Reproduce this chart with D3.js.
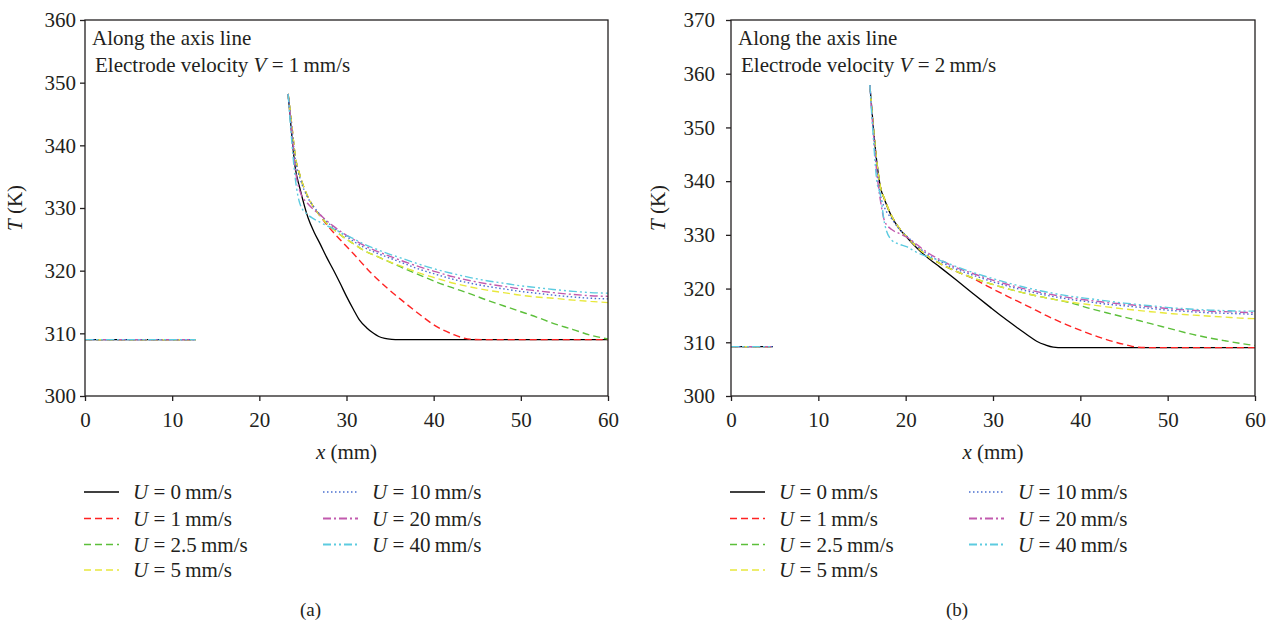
<!DOCTYPE html>
<html><head><meta charset="utf-8">
<script src="https://cdn.jsdelivr.net/npm/d3@7"></script>
<style>
body{margin:0;background:#fff}
svg{display:block}
text{font-family:"Liberation Serif","Times New Roman",serif;fill:#231f20}
</style>
</head><body>
<svg id="c" width="1276" height="623"></svg>
<script>
// ---------- data ----------
const xTicks = [0, 10, 20, 30, 40, 50, 60];
const yTicksA = [300, 310, 320, 330, 340, 350, 360];
const yTicksB = [300, 310, 320, 330, 340, 350, 360, 370];
const uLabels = ["0", "1", "2.5", "5", "10", "20", "40"];
const velocityA = "1";
const velocityB = "2";

// Panel (a): V = 1 mm/s
const aFlatX = [0, 12.7];
const aFlatT = [309.0, 309.0];
const aX_U0 = [23.3, 23.7, 24.1, 24.7, 25.6, 26.3, 27.0, 27.7, 28.5, 29.3, 30.0, 30.8, 31.5, 32.3, 33.1, 33.7, 34.4, 35.2, 36.0, 60];
const aT_U0 = [348.2, 341.9, 336.6, 332.9, 328.4, 326.1, 324.2, 322.2, 320.1, 317.9, 315.9, 313.8, 312.1, 310.9, 310.0, 309.5, 309.2, 309.05, 309.0, 309.0];
const aX_U1 = [23.3, 23.7, 24.1, 24.7, 25.5, 26.2, 27.0, 27.7, 28.9, 30.8, 32.7, 34.6, 36.5, 38.4, 40.3, 42.3, 43.3, 44.2, 46.0, 60];
const aT_U1 = [348.2, 343.5, 338.5, 335.0, 332.0, 330.2, 328.7, 327.4, 325.5, 322.7, 319.8, 317.3, 315.1, 313.0, 311.1, 309.8, 309.3, 309.05, 309.0, 309.0];
const aX_grp = [23.3, 23.7, 24.1, 24.7, 25.5, 26.2, 27.0, 27.7, 28.5, 29.6, 30.8, 31.9, 33.3, 34.6, 36.5, 38.4, 40.3, 42.3, 44.2, 46.1, 48.0, 49.9, 51.8, 53.7, 56.0, 58.0, 60];
const aT_U2_5 = [348.2, 343.5, 338.5, 335.0, 332.0, 330.2, 328.7, 327.6, 326.6, 325.4, 324.3, 323.3, 322.4, 321.6, 320.4, 319.3, 318.2, 317.2, 316.3, 315.3, 314.4, 313.5, 312.6, 311.6, 310.6, 309.7, 309.1];
const aT_U5 = [348.2, 343.5, 338.5, 335.0, 332.0, 330.2, 328.7, 327.6, 326.6, 325.4, 324.3, 323.3, 322.4, 321.6, 320.6, 319.6, 318.8, 318.0, 317.4, 316.9, 316.5, 316.1, 315.8, 315.6, 315.3, 315.1, 314.9];
const aT_U10 = [348.2, 343.0, 338.0, 334.6, 331.8, 330.3, 328.9, 327.9, 326.9, 325.8, 324.7, 323.8, 322.9, 322.2, 321.2, 320.2, 319.4, 318.6, 318.0, 317.5, 317.1, 316.7, 316.4, 316.1, 315.8, 315.6, 315.5];
const aT_U20 = [348.2, 342.5, 336.5, 332.5, 330.8, 329.8, 328.9, 328.0, 327.1, 326.0, 325.0, 324.1, 323.2, 322.5, 321.5, 320.6, 319.8, 319.0, 318.4, 317.9, 317.5, 317.1, 316.8, 316.5, 316.2, 316.0, 315.9];
const aT_U40 = [348.2, 341.0, 335.0, 330.5, 329.0, 328.3, 327.7, 327.2, 326.7, 325.9, 325.1, 324.3, 323.5, 322.8, 321.9, 321.0, 320.2, 319.5, 318.9, 318.4, 318.0, 317.6, 317.3, 317.0, 316.7, 316.5, 316.4];

// Panel (b): V = 2 mm/s
const bFlatX = [0, 4.8];
const bFlatT = [309.2, 309.2];
const bX_U0 = [15.9, 16.3, 16.7, 17.1, 17.6, 18.4, 19.2, 20.1, 21.2, 22.4, 24.0, 25.8, 27.7, 29.7, 31.2, 32.7, 33.9, 35.0, 36.0, 36.9, 38.0, 60];
const bT_U0 = [357.9, 350.0, 343.5, 339.0, 336.5, 333.4, 331.3, 329.6, 327.7, 325.9, 323.9, 321.6, 319.1, 316.5, 314.6, 312.8, 311.4, 310.2, 309.5, 309.1, 309.0, 309.0];
const bX_U1 = [15.9, 16.3, 16.7, 17.1, 17.6, 18.4, 19.2, 20.1, 21.2, 22.4, 24.0, 25.8, 27.7, 29.3, 31.6, 33.9, 36.2, 38.4, 40.7, 43.0, 45.3, 46.5, 48.0, 60];
const bT_U1 = [357.9, 350.0, 343.5, 339.0, 336.6, 333.5, 331.4, 329.7, 327.9, 326.2, 324.6, 323.2, 321.9, 320.5, 318.6, 316.8, 314.9, 313.3, 311.8, 310.5, 309.5, 309.1, 309.0, 309.0];
const bX_grp = [15.9, 16.3, 16.7, 17.1, 17.6, 18.4, 19.2, 20.1, 21.2, 22.4, 24.0, 25.8, 27.7, 29.7, 31.6, 33.5, 35.4, 37.3, 39.2, 41.1, 43.0, 45.0, 46.8, 48.7, 50.6, 52.5, 54.5, 56.5, 58.3, 60];
const bT_U2_5 = [357.9, 350.0, 343.5, 339.0, 336.6, 333.5, 331.4, 329.7, 327.9, 326.2, 324.6, 323.2, 322.0, 320.9, 320.0, 319.2, 318.5, 317.9, 317.2, 316.3, 315.5, 314.7, 314.0, 313.2, 312.4, 311.6, 310.9, 310.3, 309.8, 309.4];
const bT_U5 = [357.9, 350.0, 343.5, 339.0, 336.6, 333.5, 331.4, 329.7, 327.9, 326.2, 324.6, 323.2, 322.0, 320.9, 320.0, 319.2, 318.5, 317.9, 317.4, 317.0, 316.6, 316.2, 315.9, 315.6, 315.3, 315.1, 314.9, 314.7, 314.5, 314.4];
const bT_U10 = [357.9, 349.5, 342.5, 337.5, 335.0, 333.0, 331.2, 329.8, 328.1, 326.5, 325.0, 323.6, 322.5, 321.4, 320.5, 319.7, 319.0, 318.4, 317.9, 317.5, 317.1, 316.8, 316.5, 316.2, 315.9, 315.7, 315.5, 315.4, 315.3, 315.2];
const bT_U20 = [357.9, 349.0, 341.5, 336.5, 332.5, 331.0, 330.3, 329.6, 328.3, 326.8, 325.3, 323.9, 322.8, 321.7, 320.8, 320.0, 319.3, 318.7, 318.2, 317.8, 317.4, 317.1, 316.8, 316.5, 316.2, 316.0, 315.8, 315.7, 315.6, 315.5];
const bT_U40 = [357.9, 348.0, 340.0, 337.5, 332.0, 329.0, 328.3, 327.8, 326.8, 326.0, 325.2, 324.1, 323.0, 322.0, 321.1, 320.3, 319.6, 319.0, 318.5, 318.1, 317.7, 317.3, 317.0, 316.7, 316.4, 316.2, 316.0, 315.9, 315.8, 315.8];

// ---------- styles ----------
const colors = ["#000000", "#ff2222", "#5cbf3a", "#e8e83c", "#4a6fd0", "#c25aae", "#5ccbe0"];
const dashes = [null, "7,4", "7,4", "7,4", "1.5,2.5", "8,3,2,3", "8,3,2,3,2,3"];
const FS = 21;

const svg = d3.select("#c");

function zip(xs, ts) { return xs.map((x, i) => [x, ts[i]]); }

function drawPanel(cfg) {
  const x = d3.scaleLinear().domain([0, 60]).range([cfg.left, cfg.right]);
  const y = d3.scaleLinear().domain([300, cfg.ymax]).range([cfg.bottom, cfg.top]);
  const g = svg.append("g");

  // series (black first, coloured dashes on top)
  const line = d3.line().x(d => x(d[0])).y(d => y(d[1])).curve(d3.curveMonotoneX);
  [0, 1, 2, 3, 4, 5, 6].forEach(i => {
    const s = cfg.series[i];
    [zip(cfg.flatX, cfg.flatT), zip(s[0], s[1])].forEach(pts => {
      g.append("path").attr("d", line(pts)).attr("fill", "none")
        .attr("stroke", colors[i]).attr("stroke-width", i === 0 ? 1.3 : 1.4)
        .attr("stroke-dasharray", dashes[i]);
    });
  });

  // frame
  g.append("rect").attr("x", cfg.left).attr("y", cfg.top)
    .attr("width", cfg.right - cfg.left).attr("height", cfg.bottom - cfg.top)
    .attr("fill", "none").attr("stroke", "#231f20").attr("stroke-width", 1.3);

  // axes
  const xa = g.append("g").attr("transform", `translate(0,${cfg.bottom})`)
    .call(d3.axisBottom(x).tickValues(xTicks).tickSize(5).tickPadding(11).tickFormat(d3.format("d")));
  const ya = g.append("g").attr("transform", `translate(${cfg.left},0)`)
    .call(d3.axisLeft(y).tickValues(cfg.yTicks).tickSize(5).tickPadding(cfg.ypad).tickFormat(d3.format("d")));
  [xa, ya].forEach(a => {
    a.select(".domain").remove();
    a.selectAll("line").attr("stroke", "#231f20").attr("stroke-width", 1.3);
    a.selectAll("text").attr("font-size", FS).attr("font-family", "Liberation Serif").attr("fill", "#231f20");
  });

  // axis titles
  const xt = g.append("text").attr("x", (cfg.left + cfg.right) / 2).attr("y", 459)
    .attr("text-anchor", "middle").attr("font-size", FS);
  xt.append("tspan").attr("font-style", "italic").text("x");
  xt.append("tspan").text(" (mm)");
  const yt = g.append("text").attr("transform", `translate(${cfg.ylabX},${(cfg.top + cfg.bottom) / 2}) rotate(-90)`)
    .attr("text-anchor", "middle").attr("font-size", FS);
  yt.append("tspan").attr("font-style", "italic").text("T");
  yt.append("tspan").text(" (K)");

  // annotation
  g.append("text").attr("x", cfg.left + 7).attr("y", 45).attr("font-size", FS).text("Along the axis line");
  const an = g.append("text").attr("x", cfg.left + 10).attr("y", 72).attr("font-size", FS);
  an.append("tspan").text("Electrode velocity ");
  an.append("tspan").attr("font-style", "italic").text("V");
  an.append("tspan").text(" = " + cfg.vel + "\u2009mm/s");

  // legend
  const rowsY = [492, 518.5, 544.5, 570];
  uLabels.forEach((lab, i) => {
    const col = i < 4 ? 0 : 1;
    const row = i < 4 ? i : i - 4;
    const lx = cfg.left + (col === 0 ? -1 : 238);
    const cy = rowsY[row];
    g.append("line").attr("x1", lx).attr("x2", lx + 35).attr("y1", cy).attr("y2", cy)
      .attr("stroke", colors[i]).attr("stroke-width", i >= 5 ? 2 : 1.5)
      .attr("stroke-dasharray", dashes[i]);
    const t = g.append("text").attr("x", lx + 49).attr("y", cy + 7).attr("font-size", FS);
    t.append("tspan").attr("font-style", "italic").text("U");
    t.append("tspan").text(" = " + lab + "\u2009mm/s");
  });

  // panel caption
  g.append("text").attr("x", (cfg.left + cfg.right) / 2 - 36).attr("y", 616)
    .attr("text-anchor", "middle").attr("font-size", 19).text(cfg.caption);
}

drawPanel({
  left: 85, right: 608, top: 20, bottom: 396, ymax: 360, yTicks: yTicksA, ypad: 4, ylabX: 22,
  vel: velocityA, caption: "(a)", flatX: aFlatX, flatT: aFlatT,
  series: [[aX_U0, aT_U0], [aX_U1, aT_U1], [aX_grp, aT_U2_5], [aX_grp, aT_U5], [aX_grp, aT_U10], [aX_grp, aT_U20], [aX_grp, aT_U40]]
});
drawPanel({
  left: 731, right: 1255, top: 20, bottom: 396, ymax: 370, yTicks: yTicksB, ypad: 11, ylabX: 665,
  vel: velocityB, caption: "(b)", flatX: bFlatX, flatT: bFlatT,
  series: [[bX_U0, bT_U0], [bX_U1, bT_U1], [bX_grp, bT_U2_5], [bX_grp, bT_U5], [bX_grp, bT_U10], [bX_grp, bT_U20], [bX_grp, bT_U40]]
});
</script>
</body></html>
